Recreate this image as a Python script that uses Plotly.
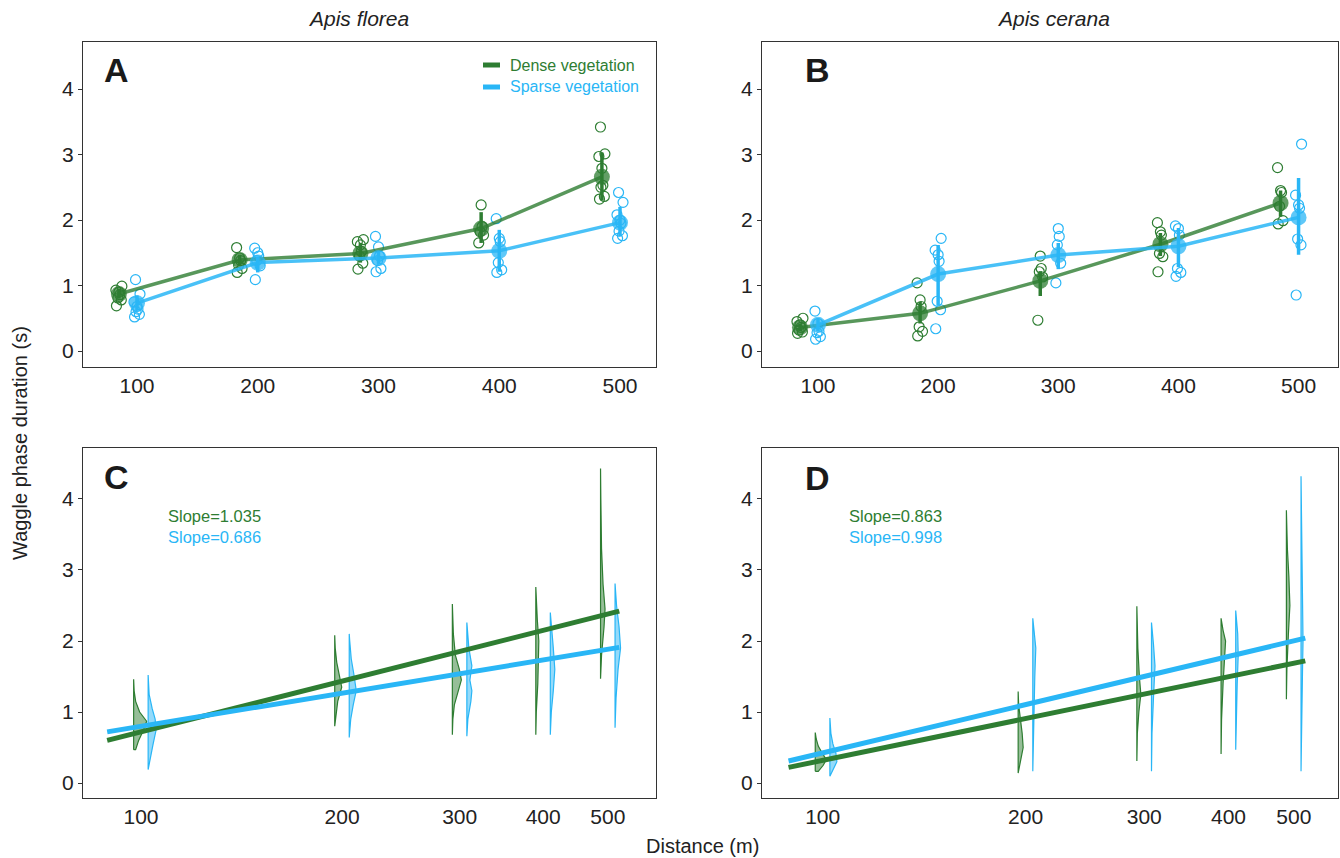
import plotly.graph_objects as go

# ---------------- data ----------------
distances = [100, 200, 300, 400, 500]
tick_labels = ["100", "200", "300", "400", "500"]
y_ticks = [0, 1, 2, 3, 4]

# Panel A (Apis florea) - means and error bar bounds
A_dense_mean = [0.87, 1.39, 1.49, 1.87, 2.66]
A_dense_lo = [0.80, 1.31, 1.35, 1.65, 2.30]
A_dense_hi = [0.95, 1.47, 1.65, 2.12, 3.03]
A_sparse_mean = [0.73, 1.35, 1.42, 1.53, 1.96]
A_sparse_lo = [0.62, 1.20, 1.33, 1.21, 1.75]
A_sparse_hi = [0.85, 1.44, 1.52, 1.85, 2.20]

A_dense_pts = [
    [0.69, 0.78, 0.81, 0.86, 0.90, 0.93, 0.99],
    [1.20, 1.26, 1.31, 1.38, 1.42, 1.58],
    [1.25, 1.34, 1.45, 1.52, 1.62, 1.67, 1.70],
    [1.65, 1.77, 1.82, 1.90, 2.23],
    [2.32, 2.36, 2.50, 2.53, 2.79, 2.97, 3.01, 3.42],
]
A_sparse_pts = [
    [0.52, 0.56, 0.60, 0.64, 0.68, 0.75, 0.87, 1.09],
    [1.09, 1.30, 1.38, 1.45, 1.50, 1.57],
    [1.21, 1.26, 1.38, 1.45, 1.59, 1.75],
    [1.20, 1.24, 1.35, 1.67, 1.72, 2.02],
    [1.72, 1.76, 1.83, 1.95, 2.00, 2.08, 2.27, 2.42],
]

# Panel B (Apis cerana)
B_dense_mean = [0.36, 0.575, 1.07, 1.63, 2.26]
B_dense_lo = [0.30, 0.42, 0.84, 1.45, 2.05]
B_dense_hi = [0.42, 0.75, 1.22, 1.80, 2.45]
B_sparse_mean = [0.40, 1.175, 1.465, 1.60, 2.04]
B_sparse_lo = [0.30, 0.70, 1.25, 1.28, 1.47]
B_sparse_hi = [0.50, 1.62, 1.65, 1.88, 2.64]

B_dense_pts = [
    [0.27, 0.29, 0.32, 0.36, 0.40, 0.45, 0.50],
    [0.23, 0.30, 0.37, 0.68, 0.78, 1.04],
    [0.47, 1.13, 1.21, 1.26, 1.45],
    [1.21, 1.44, 1.49, 1.77, 1.82, 1.96],
    [1.94, 1.99, 2.21, 2.42, 2.45, 2.80],
]
B_sparse_pts = [
    [0.18, 0.22, 0.28, 0.30, 0.42, 0.61],
    [0.34, 0.63, 0.76, 1.37, 1.47, 1.54, 1.72],
    [1.04, 1.34, 1.62, 1.75, 1.87],
    [1.14, 1.20, 1.26, 1.77, 1.87, 1.91],
    [0.855, 1.62, 1.71, 2.18, 2.23, 2.38, 3.16],
]

# Panels C / D : regression line end points (distance, duration)
fit_x = [89, 520]
C_fit_dense = [0.60, 2.42]
C_fit_sparse = [0.72, 1.91]
D_fit_dense = [0.22, 1.72]
D_fit_sparse = [0.31, 2.04]
slope_text_C = ["Slope=1.035", "Slope=0.686"]
slope_text_D = ["Slope=0.863", "Slope=0.998"]

# half-violin profiles: list of (duration, relative density in px) per distance
C_dense_violin = [
    [(0.47, 2), (0.6, 5), (0.75, 10), (0.87, 13), (1.0, 6), (1.15, 2), (1.3, 0.5), (1.46, 0)],
    [(0.80, 0), (0.95, 1), (1.15, 3), (1.35, 7), (1.5, 5), (1.7, 2), (1.9, 0.5), (2.08, 0)],
    [(0.68, 0), (0.9, 0.5), (1.1, 2), (1.3, 6), (1.45, 9), (1.6, 7), (1.8, 3), (2.1, 1), (2.52, 0)],
    [(0.68, 0), (1.0, 0.5), (1.4, 2), (1.75, 3), (2.0, 3), (2.3, 1.5), (2.76, 0)],
    [(1.47, 0), (1.8, 1), (2.2, 3.5), (2.45, 4.5), (2.8, 2.5), (3.3, 1), (4.0, 0.3), (4.43, 0)],
]
C_sparse_violin = [
    [(0.19, 0), (0.35, 2), (0.55, 5), (0.75, 8), (0.9, 7), (1.05, 4), (1.25, 1), (1.52, 0)],
    [(0.64, 0), (0.9, 1.5), (1.1, 4), (1.3, 7), (1.5, 5), (1.75, 2), (2.0, 0.5), (2.10, 0)],
    [(0.66, 0), (0.9, 1), (1.15, 4), (1.3, 5), (1.45, 3), (1.65, 5), (1.9, 2), (2.26, 0)],
    [(0.68, 0), (1.0, 1), (1.3, 3), (1.6, 4.5), (1.9, 3), (2.2, 1), (2.40, 0)],
    [(0.78, 0), (1.2, 1), (1.6, 3), (1.9, 5.5), (2.2, 4), (2.5, 1.5), (2.81, 0)],
]
D_dense_violin = [
    [(0.165, 3), (0.25, 8), (0.33, 11), (0.42, 7), (0.52, 3), (0.62, 1), (0.71, 0)],
    [(0.14, 0), (0.3, 2), (0.5, 5), (0.7, 4), (0.9, 2), (1.1, 0.5), (1.29, 0)],
    [(0.31, 0), (0.7, 0.5), (1.0, 2), (1.25, 4), (1.5, 2.5), (1.9, 1), (2.49, 0)],
    [(0.41, 0), (0.9, 0.5), (1.4, 2), (1.8, 4), (2.0, 4.5), (2.15, 2), (2.32, 0)],
    [(1.18, 0), (1.6, 0.5), (2.1, 2), (2.5, 3.5), (2.9, 2.5), (3.3, 1), (3.84, 0)],
]
D_sparse_violin = [
    [(0.094, 0), (0.2, 4), (0.3, 7), (0.42, 6), (0.55, 3), (0.7, 1), (0.915, 0)],
    [(0.165, 0), (0.6, 0.5), (1.1, 1.5), (1.5, 2), (1.9, 3), (2.1, 1.5), (2.32, 0)],
    [(0.165, 0), (0.7, 0.5), (1.2, 2), (1.65, 3.5), (1.95, 2), (2.26, 0)],
    [(0.47, 0), (1.0, 0.5), (1.4, 1.5), (1.8, 2.5), (2.1, 2), (2.43, 0)],
    [(0.165, 0), (1.0, 0.5), (1.6, 1.5), (2.0, 2), (2.5, 1.5), (3.2, 0.5), (4.32, 0)],
]

# ---------------- style ----------------
W, H = 1340, 858
FONT = "Liberation Sans, Arial, Helvetica, sans-serif"
GREEN = "rgb(46,125,50)"
GREEN_LINE = "rgba(46,125,50,0.8)"
GREEN_FILL = "rgba(46,125,50,0.5)"
BLUE = "rgb(41,182,246)"
BLUE_LINE = "rgba(41,182,246,0.85)"
BLUE_FILL = "rgba(41,182,246,0.5)"
TXT = "#222222"

fig = go.Figure()

jitter = [-2.0, 2.0, -0.8, 0.8, 0.0, -2.5, 2.5, -1.2]


def add_dot_panel(xa, ya, dmean, dlo, dhi, smean, slo, shi, dpts, spts):
    dx = [d - 15 for d in distances]
    sx = [d for d in distances]
    for xs, pts, col in ((dx, dpts, GREEN), (sx, spts, BLUE)):
        px, py = [], []
        for x0, vals in zip(xs, pts):
            for i, v in enumerate(vals):
                px.append(x0 + jitter[i % len(jitter)])
                py.append(v)
        fig.add_trace(go.Scatter(x=px, y=py, mode="markers", xaxis=xa, yaxis=ya,
                                 marker=dict(symbol="circle-open", size=10, color=col,
                                             line=dict(width=1.2, color=col)),
                                 showlegend=False, hoverinfo="skip"))
    for xs, m, lo, hi, lc, mc in ((dx, dmean, dlo, dhi, GREEN_LINE, GREEN),
                                  (sx, smean, slo, shi, BLUE_LINE, BLUE)):
        fig.add_trace(go.Scatter(
            x=xs, y=m, mode="lines+markers", xaxis=xa, yaxis=ya,
            line=dict(color=lc, width=3.5),
            marker=dict(size=16, color=mc, opacity=0.75),
            error_y=dict(type="data", symmetric=False,
                         array=[h - v for h, v in zip(hi, m)],
                         arrayminus=[v - l for l, v in zip(lo, m)],
                         color=mc, thickness=3.5, width=0),
            showlegend=False, hoverinfo="skip"))


add_dot_panel("x", "y", A_dense_mean, A_dense_lo, A_dense_hi,
              A_sparse_mean, A_sparse_lo, A_sparse_hi, A_dense_pts, A_sparse_pts)
add_dot_panel("x2", "y2", B_dense_mean, B_dense_lo, B_dense_hi,
              B_sparse_mean, B_sparse_lo, B_sparse_hi, B_dense_pts, B_sparse_pts)


def add_violin_panel(xa, ya, dviol, sviol, fd, fs, decade_px):
    for prof_list, factor, lc, fc in ((dviol, 0.975, GREEN, GREEN_FILL),
                                      (sviol, 1.025, BLUE, BLUE_FILL)):
        for d, prof in zip(distances, prof_list):
            pos = d * factor
            lo = prof[0][0]
            hi = prof[-1][0]
            xs = [pos] + [pos * 10 ** (w / decade_px) for _, w in prof] + [pos, pos]
            ys = [lo] + [y for y, _ in prof] + [hi, lo]
            fig.add_trace(go.Scatter(x=xs, y=ys, mode="lines", fill="toself",
                                     xaxis=xa, yaxis=ya,
                                     line=dict(color=lc, width=1.2),
                                     fillcolor=fc, showlegend=False, hoverinfo="skip"))
    fig.add_trace(go.Scatter(x=fit_x, y=fd, mode="lines", xaxis=xa, yaxis=ya,
                             line=dict(color=GREEN, width=5), showlegend=False, hoverinfo="skip"))
    fig.add_trace(go.Scatter(x=fit_x, y=fs, mode="lines", xaxis=xa, yaxis=ya,
                             line=dict(color=BLUE, width=5), showlegend=False, hoverinfo="skip"))


add_violin_panel("x3", "y3", C_dense_violin, C_sparse_violin, C_fit_dense, C_fit_sparse, 668)
add_violin_panel("x4", "y4", D_dense_violin, D_sparse_violin, D_fit_dense, D_fit_sparse, 674)

# ---------------- axes ----------------
def px2dx(p):
    return p / W


def px2dy(p):
    return 1 - p / H


axis_common = dict(showline=True, linecolor="#333333", linewidth=1, mirror=True,
                   showgrid=False, zeroline=False,
                   tickfont=dict(family=FONT, size=21, color=TXT))
xcommon = dict(axis_common, ticks="", tickvals=distances, ticktext=tick_labels)
ycommon = dict(axis_common, ticks="outside", ticklen=4, tickwidth=1, tickcolor="#333333",
               tickvals=y_ticks)

top_dom = [px2dy(367), px2dy(42)]
bot_dom = [px2dy(798), px2dy(448)]
left_dom = [px2dx(83), px2dx(656)]
right_dom = [px2dx(762), px2dx(1337.5)]

fig.update_layout(
    width=W, height=H, margin=dict(l=0, r=0, t=0, b=0),
    paper_bgcolor="white", plot_bgcolor="white",
    font=dict(family=FONT, color=TXT),
    xaxis=dict(xcommon, domain=left_dom, anchor="y", range=[55.3, 529.8]),
    yaxis=dict(ycommon, domain=top_dom, anchor="x", range=[-0.244, 4.718]),
    xaxis2=dict(xcommon, domain=right_dom, anchor="y2", range=[53.4, 532.4]),
    yaxis2=dict(ycommon, domain=top_dom, anchor="x2", range=[-0.244, 4.718]),
    xaxis3=dict(xcommon, domain=left_dom, anchor="y3", type="log", range=[1.9132, 2.771]),
    yaxis3=dict(ycommon, domain=bot_dom, anchor="x3", range=[-0.211, 4.718]),
    xaxis4=dict(xcommon, domain=right_dom, anchor="y4", type="log", range=[1.910, 2.7638]),
    yaxis4=dict(ycommon, domain=bot_dom, anchor="x4", range=[-0.211, 4.718]),
)

ann = []


def add_text(x, y, text, size, color=TXT, xanchor="center", angle=0):
    ann.append(dict(x=px2dx(x), y=px2dy(y), xref="paper", yref="paper", text=text,
                    showarrow=False, xanchor=xanchor, yanchor="middle", textangle=angle,
                    font=dict(family=FONT, size=size, color=color)))


add_text(358, 19, "<i>Apis florea</i>", 21)
add_text(1053, 19, "<i>Apis cerana</i>", 21)
for lx, ly, lt in ((116, 70, "A"), (817, 70, "B"), (116, 477, "C"), (817, 478, "D")):
    add_text(lx, ly, "<b>" + lt + "</b>", 34, color="#1a1a1a")
add_text(20, 443, "Waggle phase duration (s)", 20, angle=-90)
add_text(703, 846, "Distance (m)", 20)
add_text(508, 65, "Dense vegetation", 16, color=GREEN, xanchor="left")
add_text(508, 87, "Sparse vegetation", 16, color=BLUE, xanchor="left")
add_text(166, 516, slope_text_C[0], 16.5, color=GREEN, xanchor="left")
add_text(166, 537, slope_text_C[1], 16.5, color=BLUE, xanchor="left")
add_text(847, 516, slope_text_D[0], 16.5, color=GREEN, xanchor="left")
add_text(847, 537, slope_text_D[1], 16.5, color=BLUE, xanchor="left")
fig.update_layout(annotations=ann)

fig.add_shape(type="line", xref="paper", yref="paper", x0=px2dx(483), x1=px2dx(500),
              y0=px2dy(65), y1=px2dy(65), line=dict(color=GREEN, width=5))
fig.add_shape(type="line", xref="paper", yref="paper", x0=px2dx(483), x1=px2dx(500),
              y0=px2dy(87), y1=px2dy(87), line=dict(color=BLUE, width=5))

fig.write_html("out.html")
